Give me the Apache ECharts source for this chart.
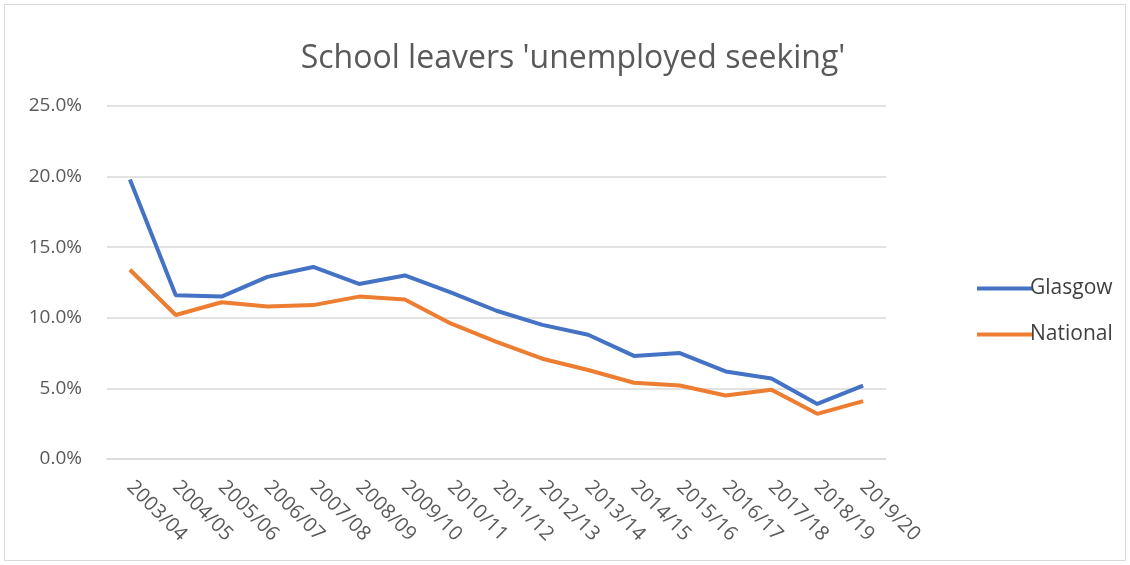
<!DOCTYPE html>
<html>
<head>
<meta charset="utf-8">
<script src="https://cdn.jsdelivr.net/npm/echarts@6/dist/echarts.min.js"></script>
<style>
  html, body { margin: 0; padding: 0; background: #fff; }
  #chart { width: 1130px; height: 565px; }
</style>
</head>
<body>
<div id="chart"></div>
<script>
// school years on the x axis
const years = ['2003/04', '2004/05', '2005/06', '2006/07', '2007/08', '2008/09', '2009/10',
  '2010/11', '2011/12', '2012/13', '2013/14', '2014/15', '2015/16', '2016/17',
  '2017/18', '2018/19', '2019/20'];

// share of leavers unemployed seeking, in percent
const glasgow = [19.8, 11.6, 11.5, 12.9, 13.6, 12.4, 13.0, 11.8, 10.5, 9.5, 8.8, 7.3, 7.5, 6.2, 5.7, 3.9, 5.2];
const national = [13.4, 10.2, 11.1, 10.8, 10.9, 11.5, 11.3, 9.6, 8.3, 7.1, 6.3, 5.4, 5.2, 4.5, 4.9, 3.2, 4.1];

const font = '"Open Sans", sans-serif';

let chart = echarts.init(document.getElementById('chart'));

let option = {
  animation: false,
  backgroundColor: '#fff',
  title: {
    text: "School leavers 'unemployed seeking'",
    left: 568,
    textAlign: 'center',
    top: 38,
    textStyle: {
      fontFamily: font,
      fontSize: 32,
      fontWeight: 'normal',
      color: '#595959'
    }
  },
  legend: {
    orient: 'vertical',
    left: 972,
    top: 273,
    itemWidth: 56,
    itemHeight: 4,
    itemGap: 25,
    icon: 'rect',
    textStyle: {
      fontFamily: font,
      fontSize: 21,
      color: '#404040',
      padding: [0, 0, 0, -8]
    },
    data: ['Glasgow', 'National']
  },
  graphic: [{
    type: 'rect',
    shape: { x: 4.5, y: 4.5, width: 1121, height: 556 },
    style: { fill: 'none', stroke: '#d9d9d9', lineWidth: 1 },
    silent: true
  }],
  grid: {
    left: 107,
    right: 244,
    top: 106,
    bottom: 106
  },
  xAxis: {
    type: 'category',
    boundaryGap: true,
    data: years,
    axisLine: { show: true, lineStyle: { color: '#d9d9d9', width: 1.5 } },
    axisTick: { show: false },
    axisLabel: {
      rotate: -45,
      interval: 0,
      margin: 25,
      fontFamily: font,
      fontSize: 20,
      color: '#595959'
    }
  },
  yAxis: {
    type: 'value',
    min: 0,
    max: 25,
    interval: 5,
    axisLine: { show: false },
    axisTick: { show: false },
    axisLabel: {
      margin: 25,
      fontFamily: font,
      fontSize: 19,
      color: '#595959',
      formatter: v => v.toFixed(1) + '%'
    },
    splitLine: { lineStyle: { color: '#d9d9d9', width: 1.5 } }
  },
  series: [
    {
      name: 'Glasgow',
      type: 'line',
      data: glasgow,
      symbol: 'none',
      itemStyle: { color: '#4472C4' },
      lineStyle: { color: '#4472C4', width: 4 }
    },
    {
      name: 'National',
      type: 'line',
      data: national,
      symbol: 'none',
      itemStyle: { color: '#ED7D31' },
      lineStyle: { color: '#ED7D31', width: 4 }
    }
  ]
};

chart.setOption(option);
</script>
</body>
</html>
